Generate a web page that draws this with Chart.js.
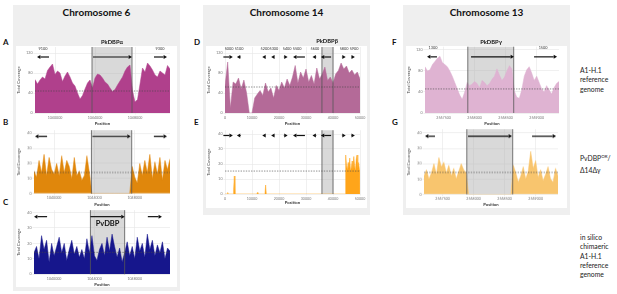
<!DOCTYPE html>
<html>
<head>
<meta charset="utf-8">
<script src="https://cdn.jsdelivr.net/npm/chart.js@4/dist/chart.umd.min.js"></script>
<style>
  html, body { margin: 0; padding: 0; background: #fff; }
  body { width: 617px; height: 294px; position: relative; overflow: hidden; font-family: Lato, "Open Sans", sans-serif; }
  .panel { position: absolute; background: #efefef; }
  .plotbg { position: absolute; background: #fff; }
  .title { position: absolute; font-weight: bold; font-size: 10px; color: #111; text-align: center; white-space: nowrap; }
  .letter { position: absolute; font-weight: bold; font-size: 8px; color: #111; }
  .side { position: absolute; font-size: 6.8px; line-height: 9.3px; color: #222; white-space: nowrap; }
  .side sup { font-size: 4.5px; line-height: 0; }
  canvas { position: absolute; }
</style>
</head>
<body>
<div class="panel" style="left:13px;top:5px;width:167px;height:286px"></div>
<div class="panel" style="left:203px;top:5px;width:167px;height:210px"></div>
<div class="panel" style="left:403px;top:5px;width:167px;height:210px"></div>
<div class="plotbg" style="left:16px;top:46px;width:161px;height:241px"></div>
<div class="plotbg" style="left:206px;top:46px;width:161px;height:162px"></div>
<div class="plotbg" style="left:406px;top:46px;width:161px;height:162px"></div>

<div class="title" style="left:13px;top:6px;width:167px">Chromosome 6</div>
<div class="title" style="left:203px;top:6px;width:167px">Chromosome 14</div>
<div class="title" style="left:403px;top:6px;width:167px">Chromosome 13</div>

<div class="letter" style="left:3px;top:37px">A</div>
<div class="letter" style="left:3px;top:117px">B</div>
<div class="letter" style="left:3px;top:197px">C</div>
<div class="letter" style="left:194px;top:37px">D</div>
<div class="letter" style="left:194px;top:117px">E</div>
<div class="letter" style="left:392px;top:37px">F</div>
<div class="letter" style="left:392px;top:117px">G</div>

<div class="side" style="left:580px;top:66px">A1-H.1<br>reference<br>genome</div>
<div class="side" style="left:580px;top:152px;line-height:12px">PvDBP<sup>OR</sup>/<br>Δ14Δγ</div>
<div class="side" style="left:580px;top:233px">in silico<br>chimaeric<br>A1-H.1<br>reference<br>genome</div>

<script>
// ---- Data ----------------------------------------------------------------
// Chromosome 6 (A, B, C): coverage bins every 250 bp from 1038000
const CHR6_START = 1038000;
const CHR6_STEP = 250;
const CHR6_XTICKS = [1040000, 1044000, 1048000];
const CHR6_A_COV = [67, 58, 66, 72, 68, 85, 92, 98, 77, 84, 80, 63, 74, 82, 72, 60, 54, 40, 28, 35,
  48, 60, 66, 50, 70, 78, 76, 70, 62, 58, 50, 43, 47, 56, 64, 72, 84, 92, 96, 45,
  22, 27, 58, 90, 82, 100, 94, 86, 76, 72, 84, 80, 76, 95, 88];
const CHR6_B_COV = [15, 11, 22, 14, 26, 12, 24, 16, 13, 20, 12, 25, 14, 22, 18, 10, 24, 12, 15, 9,
  12, 25, 14, 0, 0, 0, 0, 0, 0, 0, 0, 0, 0, 0, 0, 0, 0, 0, 0, 18,
  11, 7, 20, 12, 22, 14, 26, 10, 21, 13, 24, 9, 22, 16, 23];
const CHR6_C_COV = [14, 18, 10, 25, 16, 22, 8, 20, 12, 18, 24, 14, 20, 9, 16, 22, 13, 18, 11, 16,
  10, 23, 14, 25, 12, 9, 16, 20, 12, 24, 15, 26, 18, 11, 17, 8, 14, 21, 12, 18,
  10, 24, 15, 20, 11, 26, 16, 22, 12, 19, 14, 21, 10, 17, 15];

// Chromosome 14 (D, E)
const CHR14_XTICKS = [0, 10000, 20000, 30000, 40000, 50000];
const CHR14_D_STEP = 1000;
const CHR14_D_COV = [55, 102, 10, 62, 58, 70, 48, 66, 40, 0, 0, 30, 38, 45, 35, 60, 42, 50, 30, 55,
  45, 62, 50, 68, 55, 72, 95, 60, 82, 70, 88, 62, 75, 58, 90, 68, 78, 92, 65, 72,
  60, 78, 85, 100, 88, 94, 80, 86, 76, 82, 68];
const CHR14_E_POS = [0, 800, 1000, 1200, 3000, 3200, 3450, 3700, 11800, 12000, 12200, 14800, 15050, 15300,
  44600, 44700, 45000, 45300, 45600, 45900, 46200, 46500, 46800, 47100, 47400, 47700, 48000, 48300,
  48600, 48900, 49200, 49500, 49800, 49900, 50000];
const CHR14_E_COV = [0, 0, 1, 0, 0, 3, 12, 0, 0, 1, 0, 0, 6, 0,
  0, 26, 19, 16, 21, 17, 24, 15, 18, 22, 16, 25, 19, 15,
  23, 26, 17, 21, 16, 0, 0];

// Chromosome 13 (F, G): bins every 40 bp from 2567200
const CHR13_START = 2567200;
const CHR13_STEP = 40;
const CHR13_XTICKS = [2567500, 2568000, 2568500, 2569000];
const CHR13_F_COV = [88, 80, 82, 92, 98, 104, 108, 96, 92, 88, 80, 70, 58, 46, 34, 26, 40, 58, 52, 55,
  60, 56, 48, 62, 58, 52, 56, 64, 70, 84, 72, 62, 68, 80, 90, 84, 42, 30, 28, 44,
  70, 82, 88, 76, 62, 70, 58, 46, 40, 52, 44, 36, 48, 56, 60];
const CHR13_G_COV = [12, 16, 10, 14, 20, 13, 24, 18, 21, 14, 19, 12, 17, 10, 15, 20, 16, 14, 0, 0,
  0, 0, 0, 0, 0, 0, 0, 0, 0, 0, 0, 0, 0, 0, 0, 0, 19, 14, 8, 12,
  18, 10, 15, 28, 17, 22, 11, 16, 9, 13, 18, 10, 8, 17, 12];

const Y_TICKS_120 = [0, 40, 80, 120];
const Y_TICKS_40 = [0, 10, 20, 30, 40];

// Annotation marks (gene arrows, labels, shaded gene, mean coverage)
const A_MARKS = { shade: [1043700, 1047700], mean: 44, arrowY: 112,
  arrows: [[1039400, 1038200], [1043800, 1047700], [1049900, 1051200]],
  labelY: 129, labels: [[1038800, '9100'], [1050500, '9300']], gene: [1045700, 142, 'PkDBPα'] };
const B_MARKS = { shade: [1043700, 1047700], mean: 14, arrowY: 37.9,
  arrows: [[1039300, 1038100], [1043800, 1047600], [1049900, 1051200]] };
const C_MARKS = { shade: [1043600, 1047000], mean: 14.2, arrowY: 37.3,
  arrows: [[1039300, 1038000], [1043600, 1047000], [1049300, 1050700]], big: [1045300, 33, 'PvDBP'] };
const CHR14_ARROWS = [[-600, 2900], [5900, 4400], [15000, 13800], [18400, 17100], [21800, 23200],
  [29600, 25200], [33800, 32400], [39300, 35500], [43300, 44700], [46700, 48100]];
const D_MARKS = { shade: [35900, 40000], mean: 52, arrowY: 112, arrows: CHR14_ARROWS, labelY: 128,
  labels: [[1500, '5000'], [5200, '5100'], [14800, '5200'], [18100, '5300'], [23000, '5400'],
    [26700, '5500'], [33300, '5600'], [44100, '5800'], [47800, '5900']], gene: [37800, 144, 'PkDBPβ'] };
const E_MARKS = { shade: [35900, 40000], mean: 15.3, arrowY: 39, arrows: CHR14_ARROWS };
const F_MARKS = { shade: [2567890, 2568630], mean: 45.7, arrowY: 106.7,
  arrows: [[2567393, 2567232], [2567942, 2568635], [2568958, 2569329]],
  labelY: 124, labels: [[2567329, '1300'], [2569103, '1500']], gene: [2568264, 135, 'PkDBPγ'] };
const G_MARKS = { shade: [2567890, 2568630], mean: 14.3, arrowY: 37.9,
  arrows: [[2567377, 2567216], [2567910, 2568619], [2568942, 2569329]] };

// ---- Layout (canvas box [left, top, w, h], plot [l, t, r, b]) -------------
const GEO = {
  a: { box: [13, 36, 167, 91],   plot: [35, 47, 170, 113] },
  b: { box: [13, 127, 167, 80.5], plot: [34, 128.6, 170, 193.3] },
  c: { box: [13, 207, 167, 81],  plot: [34, 209.4, 170, 274.3] },
  d: { box: [203, 36, 167, 91],  plot: [225, 47, 360, 113] },
  e: { box: [203, 127, 167, 79], plot: [225, 130.25, 360, 194] },
  f: { box: [403, 36, 167, 91],  plot: [425, 46.7, 559, 113] },
  g: { box: [403, 126, 167, 81.5], plot: [424, 127.8, 558, 194] }
};

const FONT = 'Lato, "Open Sans", sans-serif';

function bins(start, step, n) {
  const out = [];
  for (let i = 0; i < n; i++) out.push(start + i * step);
  return out;
}

function drawArrow(ctx, x0, x1, y) {
  const dir = x1 > x0 ? 1 : -1;
  const head = 3.4, half = 2;
  if (Math.abs(x1 - x0) > head) {
    ctx.beginPath();
    ctx.moveTo(x0, y);
    ctx.lineTo(x1 - dir * head, y);
    ctx.stroke();
  }
  ctx.beginPath();
  ctx.moveTo(x1, y);
  ctx.lineTo(x1 - dir * head, y - half);
  ctx.lineTo(x1 - dir * head, y + half);
  ctx.closePath();
  ctx.fill();
}

const marksPlugin = {
  id: 'marks',
  beforeDatasetsDraw(chart, args, m) {
    if (!m.shade) return;
    const { ctx, chartArea: a, scales: { x } } = chart;
    const x0 = x.getPixelForValue(m.shade[0]), x1 = x.getPixelForValue(m.shade[1]);
    ctx.save();
    ctx.fillStyle = 'rgba(180,180,180,0.5)';
    ctx.fillRect(x0, a.top, x1 - x0, a.bottom - a.top);
    ctx.restore();
  },
  afterDatasetsDraw(chart, args, m) {
    const { ctx, chartArea: a, scales: { x, y } } = chart;
    ctx.save();
    // gene boundaries
    if (m.shade) {
      ctx.strokeStyle = '#555';
      ctx.lineWidth = 0.8;
      m.shade.forEach(function (v) {
        const px = x.getPixelForValue(v);
        ctx.beginPath(); ctx.moveTo(px, a.top); ctx.lineTo(px, a.bottom); ctx.stroke();
      });
    }
    // mean coverage
    if (m.mean !== undefined) {
      const py = y.getPixelForValue(m.mean);
      ctx.strokeStyle = '#444';
      ctx.lineWidth = 0.6;
      ctx.setLineDash([1.4, 1.2]);
      ctx.beginPath(); ctx.moveTo(a.left, py); ctx.lineTo(a.right, py); ctx.stroke();
      ctx.setLineDash([]);
    }
    // gene arrows
    ctx.strokeStyle = '#111';
    ctx.fillStyle = '#111';
    ctx.lineWidth = 1.2;
    const ay = y.getPixelForValue(m.arrowY);
    (m.arrows || []).forEach(function (ar) {
      drawArrow(ctx, x.getPixelForValue(ar[0]), x.getPixelForValue(ar[1]), ay);
    });
    ctx.textAlign = 'center';
    ctx.textBaseline = 'middle';
    if (m.labels) {
      ctx.fillStyle = '#333';
      ctx.font = '3.8px ' + FONT;
      const ly = y.getPixelForValue(m.labelY);
      m.labels.forEach(function (l) { ctx.fillText(l[1], x.getPixelForValue(l[0]), ly); });
    }
    if (m.gene) {
      ctx.fillStyle = '#111';
      ctx.font = 'bold 5.8px ' + FONT;
      ctx.fillText(m.gene[2], x.getPixelForValue(m.gene[0]), y.getPixelForValue(m.gene[1]));
    }
    if (m.big) {
      ctx.fillStyle = '#111';
      ctx.font = 'bold 7.5px ' + FONT;
      ctx.fillText(m.big[2], x.getPixelForValue(m.big[0]), y.getPixelForValue(m.big[1]));
    }
    ctx.restore();
  }
};

function coverageChart(key, xs, ys, color, xMin, xMax, xTicks, yMax, yTicks, marks) {
  const g = GEO[key];
  const bl = g.box[0], bt = g.box[1], bw = g.box[2], bh = g.box[3];
  const pl = g.plot[0], pt = g.plot[1], pr = g.plot[2], pb = g.plot[3];
  const cv = document.createElement('canvas');
  cv.width = bw; cv.height = bh;
  cv.style.left = bl + 'px'; cv.style.top = bt + 'px';
  cv.style.width = bw + 'px'; cv.style.height = bh + 'px';
  document.body.appendChild(cv);
  const yW = pl - bl, xH = bt + bh - pb;
  const tickFont = { family: FONT, size: 3.6 };
  const grid = { color: '#e6e6e6', lineWidth: 0.6, tickLength: 1.5 };

  new Chart(cv, {
    type: 'line',
    data: {
      datasets: [{
        data: ys.map(function (v, i) { return { x: xs[i], y: v }; }),
        borderColor: color,
        backgroundColor: color,
        borderWidth: 0.5,
        fill: 'origin',
        pointRadius: 0,
        tension: 0
      }]
    },
    options: {
      responsive: false,
      animation: false,
      events: [],
      layout: { padding: { left: 0, top: pt - bt, right: bl + bw - pr, bottom: 0 } },
      plugins: { legend: { display: false }, tooltip: { enabled: false }, marks: marks },
      scales: {
        x: {
          type: 'linear', min: xMin, max: xMax,
          afterBuildTicks: function (s) { s.ticks = xTicks.map(function (v) { return { value: v }; }); },
          afterFit: function (s) { s.height = xH; },
          ticks: { font: tickFont, color: '#777', padding: 0.8, maxRotation: 0, autoSkip: false,
            callback: function (v) { return String(v); } },
          grid: grid,
          border: { display: false },
          title: { display: true, text: 'Position', color: '#333',
            font: { family: FONT, size: 4.2, weight: 'bold' }, padding: { top: 0, bottom: 1 } }
        },
        y: {
          min: 0, max: yMax,
          afterBuildTicks: function (s) { s.ticks = yTicks.map(function (v) { return { value: v }; }); },
          afterFit: function (s) { s.width = yW; },
          ticks: { font: tickFont, color: '#777', padding: 1 },
          grid: grid,
          border: { display: false },
          title: { display: true, text: 'Total Coverage', color: '#444',
            font: { family: FONT, size: 4.2 }, padding: { top: 3, bottom: 0 } }
        }
      }
    },
    plugins: [marksPlugin]
  });
}

const chr6X = bins(CHR6_START, CHR6_STEP, CHR6_A_COV.length);
const chr14X = bins(0, CHR14_D_STEP, CHR14_D_COV.length);
const chr13X = bins(CHR13_START, CHR13_STEP, CHR13_F_COV.length);
const CHR6_MAX = chr6X[chr6X.length - 1];
const CHR13_MAX = chr13X[chr13X.length - 1];

coverageChart('a', chr6X, CHR6_A_COV, '#b0408c', CHR6_START, CHR6_MAX, CHR6_XTICKS, 132, Y_TICKS_120, A_MARKS);
coverageChart('b', chr6X, CHR6_B_COV, '#e0870c', CHR6_START, CHR6_MAX, CHR6_XTICKS, 42, Y_TICKS_40, B_MARKS);
coverageChart('c', chr6X, CHR6_C_COV, '#16168c', CHR6_START, CHR6_MAX, CHR6_XTICKS, 41.5, Y_TICKS_40, C_MARKS);
coverageChart('d', chr14X, CHR14_D_COV, '#b46a98', 0, 50000, CHR14_XTICKS, 132, Y_TICKS_120, D_MARKS);
coverageChart('e', CHR14_E_POS, CHR14_E_COV, '#ffa51a', 0, 50000, CHR14_XTICKS, 42.5, Y_TICKS_40, E_MARKS);
coverageChart('f', chr13X, CHR13_F_COV, '#dfb3d2', CHR13_START, CHR13_MAX, CHR13_XTICKS, 126, Y_TICKS_120, F_MARKS);
coverageChart('g', chr13X, CHR13_G_COV, '#f8c56e', CHR13_START, CHR13_MAX, CHR13_XTICKS, 42.5, Y_TICKS_40, G_MARKS);
</script>
</body>
</html>
